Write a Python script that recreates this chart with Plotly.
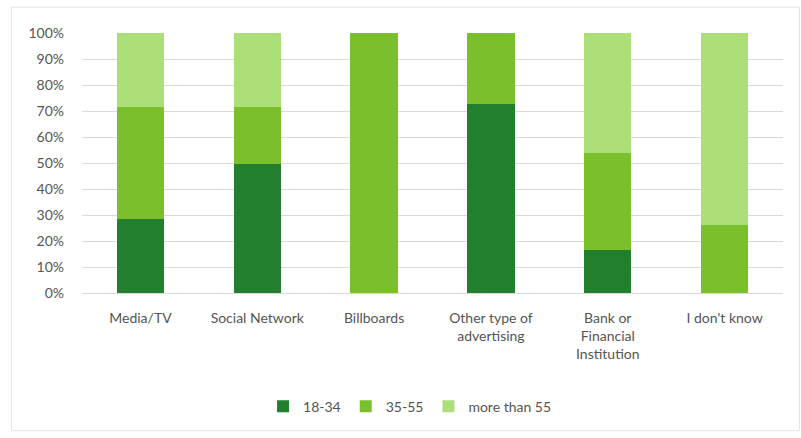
import plotly.graph_objects as go

# Where respondents heard about it, split by age group (share of each source)
categories = [
    "Media/TV",
    "Social Network",
    "Billboards",
    "Other type of<br>advertising",
    "Bank or<br>Financial<br>Institution",
    "I don't know",
]
age_18_34 = [0.286, 0.495, 0.0, 0.727, 0.167, 0.0]
age_35_55 = [0.428, 0.219, 1.0, 0.273, 0.370, 0.260]
age_over_55 = [0.286, 0.286, 0.0, 0.0, 0.463, 0.740]

series_names = ["18-34", "35-55", "more than 55"]
series_colors = ["#217f2e", "#7bbf2c", "#acdf78"]
y_ticks = [i / 10 for i in range(11)]

TEXT = "#555555"
FONT = "Lato, 'Open Sans', sans-serif"

fig = go.Figure()
for name, vals, color in zip(series_names, [age_18_34, age_35_55, age_over_55], series_colors):
    fig.add_trace(go.Bar(
        x=categories, y=vals, name=name,
        marker=dict(color=color, line=dict(width=0)),
    ))

# Plot area spans x 81.5..783.5, y 33..293 px
L, R, T, B = 81.5, 783.5, 33.3, 293.3
W, H = 801, 438
pw, ph = R - L, B - T

def px_x(x):
    return (x - L) / pw

def px_y(y):
    return (B - y) / ph

fig.update_layout(
    width=W, height=H,
    margin=dict(l=L, r=W - R, t=T, b=H - B, pad=0),
    barmode="stack",
    bargap=0.595,
    paper_bgcolor="white",
    plot_bgcolor="white",
    font=dict(family=FONT, size=14, color=TEXT),
    showlegend=True,
    legend=dict(
        orientation="h",
        x=px_x(410), xanchor="center",
        y=px_y(407), yanchor="middle",
        font=dict(size=14, color=TEXT),
        itemwidth=30,
        entrywidth=0,
        traceorder="normal",
        bgcolor="rgba(0,0,0,0)",
    ),
    xaxis=dict(
        type="category",
        showgrid=False,
        showline=False,
        ticks="",
        tickfont=dict(size=14, color=TEXT),
        ticklabelstandoff=15,
    ),
    yaxis=dict(
        range=[0, 1],
        tickvals=y_ticks,
        tickformat=".0%",
        showgrid=True,
        gridcolor="#d9d9d9",
        gridwidth=1,
        zeroline=True,
        zerolinecolor="#d9d9d9",
        zerolinewidth=1,
        showline=False,
        ticks="",
        ticklabelstandoff=17,
        tickfont=dict(size=14, color=TEXT),
    ),
    shapes=[dict(
        type="rect", xref="paper", yref="paper",
        x0=px_x(11), x1=px_x(800), y0=px_y(431), y1=px_y(7.5),
        line=dict(color="#e3e3e3", width=1),
        fillcolor="rgba(0,0,0,0)", layer="below",
    )],
)

fig.write_html("out.html")
